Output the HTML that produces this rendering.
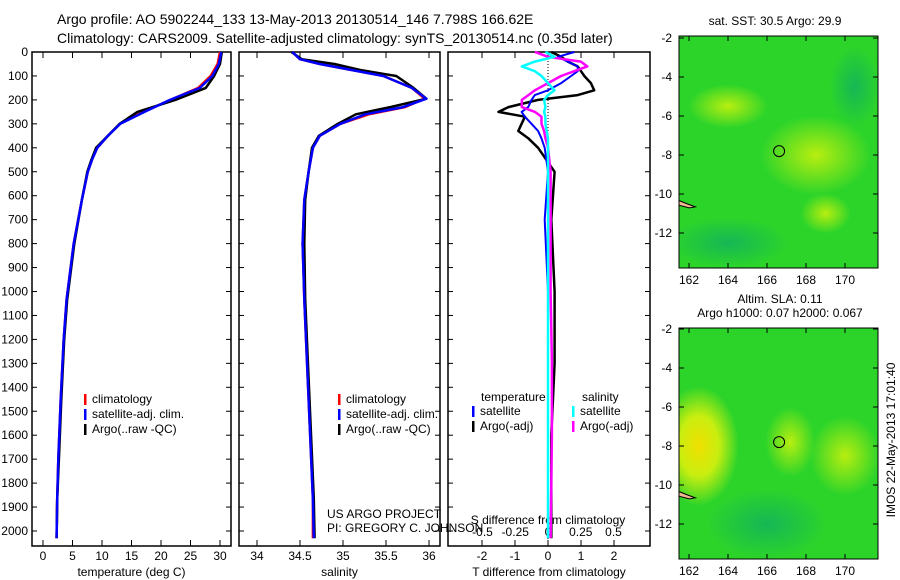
<!DOCTYPE html>
<html><head><meta charset="utf-8"><style>
body{margin:0;background:#fff;}
svg{display:block;font-family:"Liberation Sans",sans-serif;}
</style></head><body>
<svg id="chart" width="900" height="580" viewBox="0 0 900 580" xmlns="http://www.w3.org/2000/svg">
<defs>
<radialGradient id="g1" cx="0.5" cy="0.5" r="0.5"><stop offset="0" stop-color="#b8ee10"/><stop offset="1" stop-color="#b8ee10" stop-opacity="0"/></radialGradient>
<radialGradient id="g2" cx="0.5" cy="0.5" r="0.5"><stop offset="0" stop-color="#f0e000"/><stop offset="0.5" stop-color="#c8ee10"/><stop offset="1" stop-color="#c8ee10" stop-opacity="0"/></radialGradient>
<radialGradient id="g3" cx="0.5" cy="0.5" r="0.5"><stop offset="0" stop-color="#10b060" stop-opacity="0.8"/><stop offset="1" stop-color="#10b060" stop-opacity="0"/></radialGradient>
<clipPath id="clip-sst-map"><rect x="679" y="36" width="199" height="232"/></clipPath>
<clipPath id="clip-sla-map"><rect x="679" y="328" width="199" height="231"/></clipPath>
</defs>
<g id="titles">
<text x="57" y="24" font-size="14">Argo profile: AO 5902244_133 13-May-2013 20130514_146 7.798S 166.62E</text>
<text x="57" y="43" font-size="14">Climatology: CARS2009. Satellite-adjusted climatology: synTS_20130514.nc (0.35d later)</text>
</g>
<g id="panels"></g>
<g id="maps"></g>
<text transform="translate(895,440) rotate(-90)" font-size="12" text-anchor="middle">IMOS 22-May-2013 17:01:40</text>
</svg>
<script>
// ---- data ----
const tDepth = [0,50,100,150,200,250,300,350,400,450,500,617,800,1033,1200,1450,1700,1867,2030];
const tClim  = [30.0,29.6,28.4,26.3,21.6,17.0,13.0,11.0,9.2,8.3,7.6,6.6,5.2,4.0,3.5,3.0,2.6,2.4,2.3];
const tSat   = [30.2,29.8,28.7,26.6,21.5,17.2,13.1,11.0,9.2,8.3,7.6,6.6,5.2,4.0,3.5,3.0,2.6,2.4,2.3];
const tArgo  = [30.3,30.0,29.0,27.6,22.4,16.0,13.0,11.0,9.0,8.2,7.5,6.6,5.3,4.1,3.6,3.1,2.7,2.4,2.3];
const sDepth = [0,30,50,75,100,150,195,230,260,300,350,400,500,617,800,1033,1450,1867,2030];
const sClim  = [34.41,34.50,34.73,35.10,35.47,35.80,35.95,35.72,35.30,34.97,34.73,34.65,34.60,34.55,34.53,34.55,34.60,34.65,34.65];
const sSat   = [34.41,34.50,34.73,35.10,35.47,35.80,35.97,35.70,35.26,34.97,34.73,34.65,34.60,34.55,34.53,34.55,34.60,34.65,34.66];
const sArgo  = [34.40,34.52,34.90,35.20,35.62,35.82,35.97,35.55,35.15,34.94,34.72,34.64,34.60,34.56,34.55,34.56,34.61,34.66,34.67];
const dDepth = [0,20,40,60,80,100,130,160,180,200,230,250,270,300,330,360,400,500,700,1000,1300,1600,2030];
const dTsat  = [0.8,0.3,0.6,0.9,0.9,0.7,0.4,0.0,-0.4,-0.5,-0.6,-0.8,-0.7,-0.5,-0.3,-0.2,-0.1,0.0,-0.1,0.0,0.0,0.0,0.0];
const dTargo = [0.1,0.4,0.6,0.9,1.0,1.1,1.3,1.4,0.9,-0.3,-1.2,-1.5,-0.7,-0.8,-0.9,-0.6,-0.3,0.2,0.1,0.2,0.2,0.1,0.1];
const dSsat  = [-0.02,0.05,-0.1,-0.2,-0.1,-0.05,0.0,0.05,0.0,-0.03,-0.02,-0.03,-0.02,-0.02,-0.01,0.0,0.0,0.0,0.0,0.0,0.0,0.0,0.0];
const dSargo = [-0.1,0.0,0.25,0.3,0.2,0.1,0.0,-0.1,-0.15,-0.2,-0.2,-0.1,-0.05,-0.05,-0.03,-0.02,0.0,0.02,0.02,0.02,0.03,0.03,0.02];
const depthTicks = [0,100,200,300,400,500,600,700,800,900,1000,1100,1200,1300,1400,1500,1600,1700,1800,1900,2000];
const tTicks = [0,5,10,15,20,25,30];
const sTicks = [34,34.5,35,35.5,36];
const dtTicks = [-2,-1,0,1,2];
const dsTicks = ['-0.5','-0.25','0','0.25','0.5'];
const lonTicks = [162,164,166,168,170];
const latTicks = [-2,-4,-6,-8,-10,-12];

const NS="http://www.w3.org/2000/svg";
function mk(tag,attrs,parent,txt){const e=document.createElementNS(NS,tag);for(const k in attrs)e.setAttribute(k,attrs[k]);if(txt!==undefined)e.textContent=txt;parent.appendChild(e);return e;}
const panels=document.getElementById('panels');
const PT=52, PB=546;
const yD = d => PT + d*0.2395;

function panel(name,x0,x1,xs,ticks,tickLabels,xlabel){
  const g=mk('g',{},panels);
  
  
  const r=mk('rect',{x:x0,y:PT,width:x1-x0,height:PB-PT,fill:'none',stroke:'#000','stroke-width':1.5},g);
  
  
  ticks.forEach((t,i)=>{
    const x=xs(t);
    mk('line',{x1:x,x2:x,y1:PB,y2:PB-6,stroke:'#000'},g);
    mk('line',{x1:x,x2:x,y1:PT,y2:PT+6,stroke:'#000'},g);
    if(tickLabels){const tl=mk('text',{x:x,y:PB+14,'font-size':12,'text-anchor':'middle'},g,tickLabels[i]);
      
      }
  });
  depthTicks.forEach(d=>{
    mk('line',{x1:x0,x2:x0+5,y1:yD(d),y2:yD(d),stroke:'#000'},g);
    mk('line',{x1:x1,x2:x1-5,y1:yD(d),y2:yD(d),stroke:'#000'},g);
  });
  if(xlabel){const xl=mk('text',{x:(x0+x1)/2,y:576,'font-size':12,'text-anchor':'middle'},g,xlabel);
    
    }
  return g;
}
function line(g,name,xs,vals,depths,color,w){
  const pts=vals.map((v,i)=>xs(v).toFixed(1)+','+yD(depths[i]).toFixed(1)).join(' ');
  const p=mk('polyline',{points:pts,fill:'none',stroke:color,'stroke-width':w||2.5,'stroke-linejoin':'round'},g);
  
  
}
function legend(g,x,y,items){
  items.forEach((it,i)=>{
    const yy=y+i*15;
    mk('rect',{x:x,y:yy-9,width:2.5,height:11,fill:it[1]},g);
    const t=mk('text',{x:x+8,y:yy,'font-size':12},g,it[0]);
    
    
  });
}
const dl=mk('g',{},panels);


depthTicks.forEach(d=>{mk('text',{x:28,y:yD(d)+4,'font-size':12,'text-anchor':'end'},dl,String(d));});

const xT=v=>43+v*5.9;
const g1=panel('temperature-panel',32,231,xT,tTicks,tTicks.map(String),'temperature (deg C)');
line(g1,'temp-climatology',xT,tClim,tDepth,'#ff0000');
line(g1,'temp-argo',xT,tArgo,tDepth,'#000000');
line(g1,'temp-satellite',xT,tSat,tDepth,'#0000ff');
legend(g1,84,403,[['climatology','#f00'],['satellite-adj. clim.','#00f'],['Argo(..raw -QC)','#000']]);

const xS=v=>257+(v-34)*86;
const g2=panel('salinity-panel',239,440,xS,sTicks,sTicks.map(String),'salinity');
line(g2,'sal-climatology',xS,sClim,sDepth,'#ff0000');
line(g2,'sal-argo',xS,sArgo,sDepth,'#000000');
line(g2,'sal-satellite',xS,sSat,sDepth,'#0000ff');
legend(g2,338,403,[['climatology','#f00'],['satellite-adj. clim.','#00f'],['Argo(..raw -QC)','#000']]);
const c1=mk('text',{x:327,y:518,'font-size':12},g2,'US ARGO PROJECT');


const c2=mk('text',{x:327,y:532,'font-size':12},g2,'PI: GREGORY C. JOHNSON');



const xDT=v=>548+v*33;
const xDS=v=>548+v*131;
const g3=panel('difference-panel',448,650,xDT,dtTicks,dtTicks.map(String),'T difference from climatology');
dsTicks.forEach(t=>{const tl=mk('text',{x:xDS(+t),y:536,'font-size':12,'text-anchor':'middle'},g3,t);
  
  });
const st=mk('text',{x:548,y:524,'font-size':12,'text-anchor':'middle'},g3,'S difference from climatology');


mk('line',{x1:548,x2:548,y1:PT,y2:PB,stroke:'#000','stroke-dasharray':'1,2'},g3);
line(g3,'dT-argo',xDT,dTargo,dDepth,'#000000',2.5);
line(g3,'dT-satellite',xDT,dTsat,dDepth,'#0000ff',2);
line(g3,'dS-argo',xDS,dSargo,dDepth,'#ff00ff',2.5);
line(g3,'dS-satellite',xDS,dSsat,dDepth,'#00ffff',2.5);
const lg=mk('text',{x:481,y:401,'font-size':12},g3,'temperature');


const ls=mk('text',{x:582,y:401,'font-size':12},g3,'salinity');


legend(g3,472,415,[['satellite','#00f'],['Argo(-adj)','#000']]);
legend(g3,572,415,[['satellite','#0ff'],['Argo(-adj)','#f0f']]);

const maps=document.getElementById('maps');
const lonX=l=>689+(l-162)*19.5;
function map(name,y0,y1,latY0,title,blobs){
  const g=mk('g',{},maps);
  
  
  const latY=l=>latY0+(-2-l)*19.5;
  const inner=mk('g',{'clip-path':'url(#clip-'+name+')'},g);
  mk('rect',{x:679,y:y0,width:199,height:y1-y0,fill:'#2cd42a'},inner);
  blobs.forEach(b=>mk('ellipse',{cx:lonX(b[0]),cy:latY(b[1]),rx:b[2],ry:b[3],fill:'url(#'+b[4]+')'},inner));
  mk('path',{d:`M${lonX(161.4)},${latY(-10.3)} l10,4 l8,3 l-6,1 l-12,-3z`,fill:'#f0b890',stroke:'#000'},inner);
  const c=mk('circle',{cx:lonX(166.62),cy:latY(-7.8),r:5.5,fill:'none',stroke:'#000'},g);
  
  
  mk('rect',{x:679,y:y0,width:199,height:y1-y0,fill:'none',stroke:'#000'},g);
  lonTicks.forEach(l=>{mk('line',{x1:lonX(l),x2:lonX(l),y1:y1,y2:y1-5,stroke:'#000'},g);
    mk('line',{x1:lonX(l),x2:lonX(l),y1:y0,y2:y0+5,stroke:'#000'},g);
    mk('text',{x:lonX(l),y:y1+16,'font-size':12,'text-anchor':'middle'},g,String(l));});
  latTicks.forEach(l=>{mk('line',{x1:679,x2:684,y1:latY(l),y2:latY(l),stroke:'#000'},g);
    mk('line',{x1:878,x2:873,y1:latY(l),y2:latY(l),stroke:'#000'},g);
    mk('text',{x:672,y:latY(l)+4,'font-size':12,'text-anchor':'end'},g,String(l));});
  title.forEach(t=>{const tt=mk('text',{x:t[1],y:t[2],'font-size':12,'text-anchor':'middle'},g,t[0]);
    
    });
}
map('sst-map',36,268,38,[['sat. SST: 30.5 Argo: 29.9',775,25]],
  [[168.5,-8,55,40,'g1'],[164,-5.5,40,22,'g1'],[169,-11,25,20,'g1'],[164,-12.5,60,25,'g3'],[170.5,-4.5,25,40,'g3']]);
map('sla-map',328,559,329,[['Altim. SLA: 0.11',780,303],['Argo h1000: 0.07 h2000: 0.067',780,317]],
  [[162.5,-8,40,60,'g2'],[167.2,-7.8,25,35,'g1'],[170,-8.5,35,40,'g1'],[166,-12,60,35,'g3']]);
</script>
</body></html>
